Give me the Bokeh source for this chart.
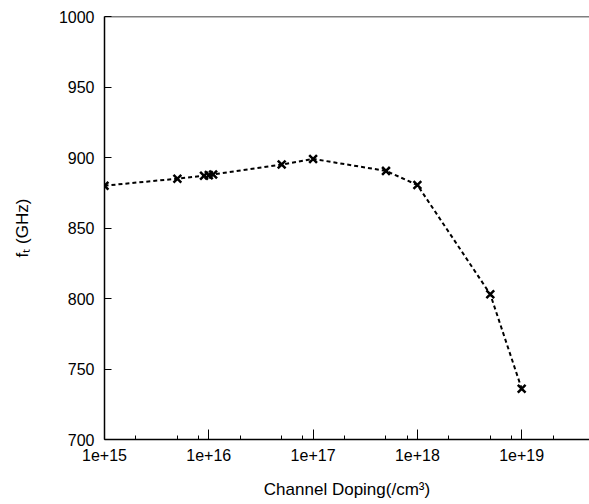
from bokeh.plotting import figure
from bokeh.models import FixedTicker, Range1d, Span
from bokeh.embed import file_html
from bokeh.resources import INLINE

doping = [1e15, 5e15, 9e15, 1e16, 1.1e16, 5e16, 1e17, 5e17, 1e18, 5e18, 1e19]
ft = [880, 885, 887, 887.5, 888, 895, 899, 890.5, 880.5, 803, 736]

x_major = [1e15, 1e16, 1e17, 1e18, 1e19]
x_minor = [m * 10**e for e in range(15, 20) for m in (2, 5, 8)]
y_major = [700, 750, 800, 850, 900, 950, 1000]

FONT = "Liberation Sans"

p = figure(width=589, height=504, x_axis_type="log",
           x_range=Range1d(1e15, 4.47e19), y_range=Range1d(700, 1000),
           output_backend="svg", toolbar_location=None,
           min_border_left=104, min_border_right=0, min_border_top=16,
           min_border_bottom=65)
p.outline_line_color = None
p.grid.grid_line_color = None
p.background_fill_color = "white"
p.border_fill_color = "white"

p.add_layout(Span(location=1000, dimension="width", line_color="black", line_width=1.5))

p.line(doping, ft, line_color="black", line_width=2, line_dash="4 3")
p.scatter(doping, ft, marker="x", size=11, line_color="black", line_width=2.5)

xa = p.xaxis[0]
xa.ticker = FixedTicker(ticks=x_major, minor_ticks=x_minor)
xa.major_label_overrides = {1e15: "1e+15", 1e16: "1e+16", 1e17: "1e+17", 1e18: "1e+18", 1e19: "1e+19"}
xa.major_tick_in = 10
xa.major_tick_out = 0
xa.minor_tick_in = 4
xa.minor_tick_out = 0
xa.major_label_standoff = 9
xa.axis_label = "Channel Doping(/cm³)"
xa.axis_label_standoff = 16

ya = p.yaxis[0]
ya.ticker = FixedTicker(ticks=y_major, minor_ticks=[])
ya.major_tick_in = 7
ya.major_tick_out = 0
ya.minor_tick_in = 0
ya.minor_tick_out = 0
ya.major_label_standoff = 10
ya.axis_label = "fₜ (GHz)"
ya.axis_label_standoff = 24

for ax in (xa, ya):
    ax.axis_line_color = "black"
    ax.axis_line_width = 1.5
    ax.major_tick_line_color = "black"
    ax.minor_tick_line_color = "black"
    ax.major_label_text_font = FONT
    ax.major_label_text_font_size = "16px"
    ax.major_label_text_color = "black"
    ax.axis_label_text_font = FONT
    ax.axis_label_text_font_size = "17px"
    ax.axis_label_text_font_style = "normal"
    ax.axis_label_text_color = "black"

open("out.html", "w").write(file_html(p, INLINE))
